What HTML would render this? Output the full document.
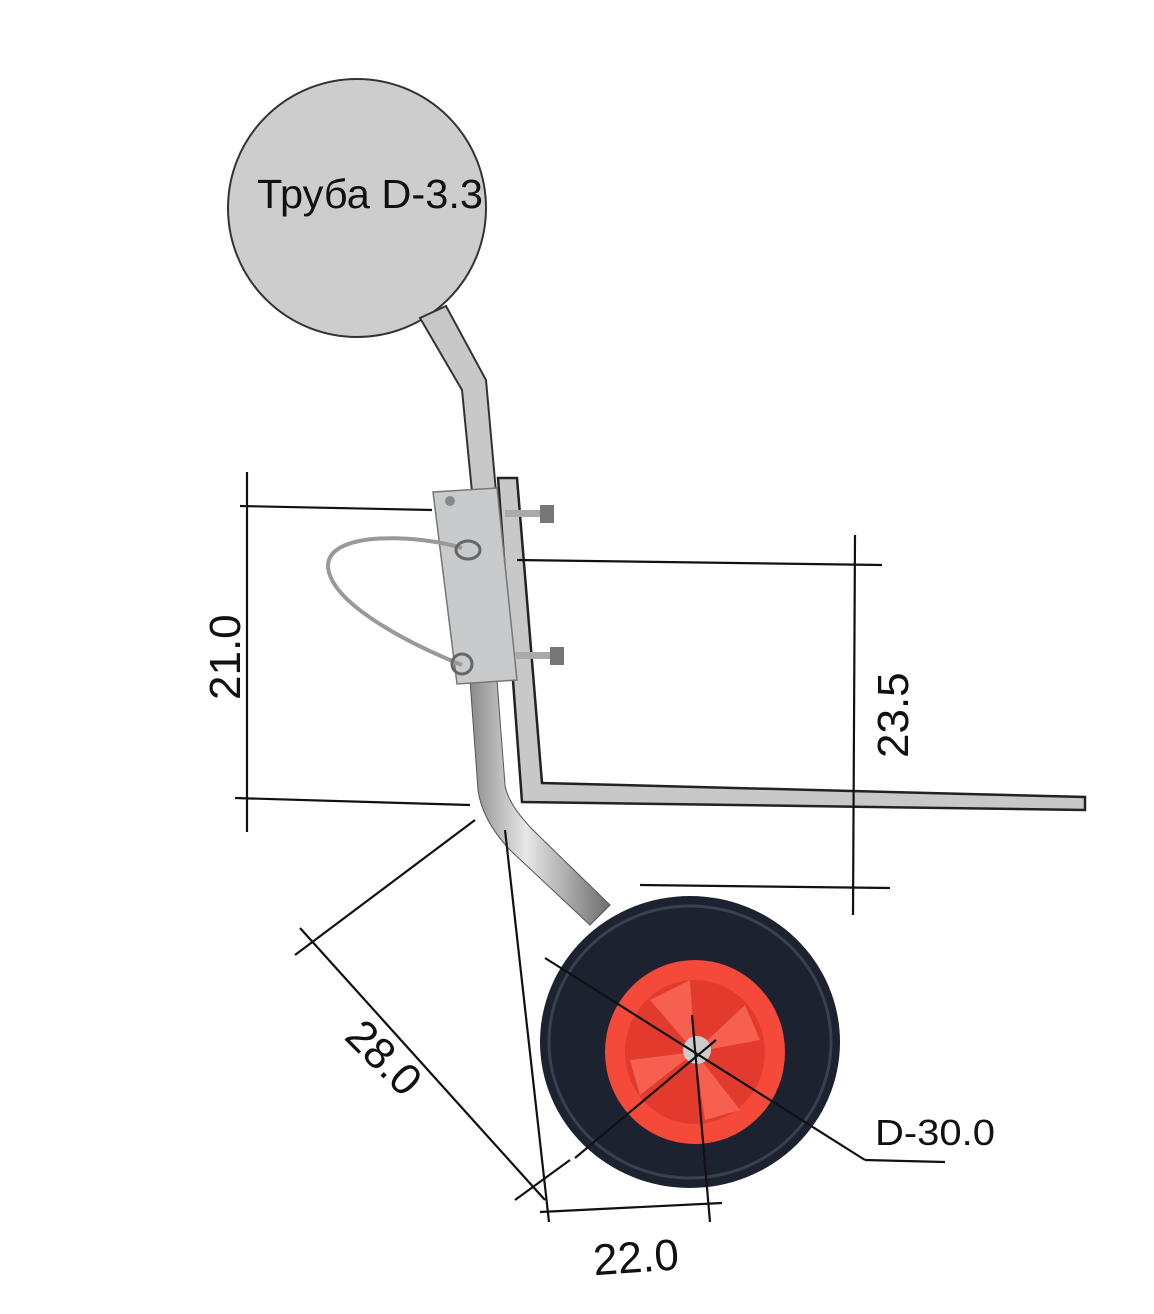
<!DOCTYPE html>
<html><head><meta charset="utf-8"><style>
html,body{margin:0;padding:0;background:#fff;}
svg{display:block;}
text{font-family:"Liberation Sans",sans-serif;fill:#111;}
</style></head><body>
<svg width="1154" height="1314" viewBox="0 0 1154 1314" xmlns="http://www.w3.org/2000/svg">
<defs>
<linearGradient id="tube" x1="0" y1="0" x2="1" y2="0">
<stop offset="0" stop-color="#8a8a8a"/><stop offset="0.4" stop-color="#e8e8e8"/><stop offset="1" stop-color="#6c6c6c"/>
</linearGradient>
</defs>
<circle cx="357" cy="208" r="129" fill="#cdcdcd" stroke="#333" stroke-width="2"/>
<text x="257" y="208" font-size="41" textLength="226" lengthAdjust="spacingAndGlyphs">Труба D-3.3</text>
<polygon points="420,318 446,306 486,380 496,492 472,492 462,390" fill="#c8c8c8" stroke="#333" stroke-width="2"/>
<polygon points="498,478 517,478 542,783 1085,797 1085,810 522,802" fill="#c8c8c8" stroke="#222" stroke-width="2.5"/>
<path d="M470,680 L478,790 Q482,820 510,850 L590,925 L610,905 L535,832 Q508,805 505,785 L497,680 Z" fill="url(#tube)" stroke="#555" stroke-width="1"/>
<polygon points="433,492 497,488 517,680 457,684" fill="#c9cacb" stroke="#777" stroke-width="1.5"/>
<circle cx="450" cy="501" r="5" fill="#888"/>
<rect x="505" y="510" width="40" height="7" fill="#aaa"/><rect x="540" y="505" width="14" height="18" fill="#777"/>
<rect x="515" y="652" width="40" height="7" fill="#aaa"/><rect x="550" y="647" width="14" height="18" fill="#777"/>
<path d="M462,548 C420,535 330,530 328,565 C328,600 400,640 462,665" fill="none" stroke="#999" stroke-width="4"/>
<ellipse cx="468" cy="550" rx="12" ry="9" fill="none" stroke="#666" stroke-width="3"/>
<ellipse cx="462" cy="664" rx="10" ry="10" fill="none" stroke="#666" stroke-width="3"/>
<ellipse cx="690" cy="1042" rx="150" ry="146" fill="#1d2230"/>
<ellipse cx="690" cy="1042" rx="141" ry="136" fill="none" stroke="#39404f" stroke-width="3"/>
<ellipse cx="695" cy="1052" rx="90" ry="92" fill="#f5493a"/>
<ellipse cx="695" cy="1052" rx="70" ry="72" fill="#e23b2e"/>
<path d="M695,1052 L650,1000 L690,980 Z M695,1052 L745,1005 L760,1040 Z M695,1052 L740,1110 L705,1120 Z M695,1052 L640,1095 L630,1060 Z" fill="#f66050"/>
<circle cx="697" cy="1050" r="14" fill="#ccc"/>
<g stroke="#111" stroke-width="2.2" fill="none">
<line x1="247" y1="472" x2="247" y2="832"/>
<line x1="240" y1="506" x2="432" y2="510"/>
<line x1="235" y1="798" x2="470" y2="805"/>
<line x1="855" y1="535" x2="853" y2="915"/>
<line x1="517" y1="560" x2="882" y2="565"/>
<line x1="640" y1="885" x2="890" y2="888"/>
<line x1="475" y1="820" x2="295" y2="955"/>
<line x1="300" y1="928" x2="545" y2="1200"/>
<line x1="570" y1="1160" x2="515" y2="1200"/>
<line x1="505" y1="830" x2="549" y2="1222"/>
<line x1="540" y1="1212" x2="722" y2="1203"/>
<line x1="692" y1="1015" x2="710" y2="1222"/>
<line x1="545" y1="958" x2="865" y2="1160"/>
<line x1="865" y1="1160" x2="945" y2="1162"/>
<line x1="575" y1="1158" x2="716" y2="1040"/>
</g>
<text x="0" y="0" font-size="44" transform="translate(240,700) rotate(-90)">21.0</text>
<text x="0" y="0" font-size="44" transform="translate(908,758) rotate(-90)">23.5</text>
<text x="0" y="0" font-size="44" transform="translate(343,1038) rotate(45)">28.0</text>
<text x="593" y="1272" font-size="44" transform="rotate(-4 640 1255)">22.0</text>
<text x="875" y="1145" font-size="36" textLength="120" lengthAdjust="spacingAndGlyphs">D-30.0</text>
</svg>
</body></html>
